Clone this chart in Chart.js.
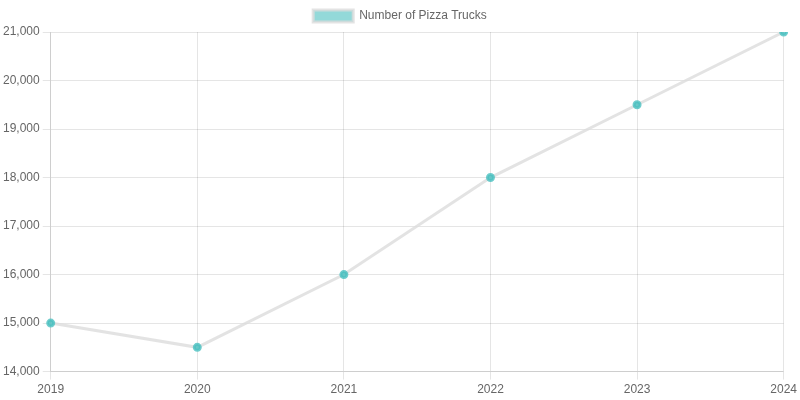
<!DOCTYPE html>
<html lang="en">
  <head>
    <meta charset="UTF-8" />
    <title>Pizza Trucks</title>
    <script src="https://cdn.jsdelivr.net/npm/chart.js@4"></script>
    <style>
      body { margin: 0; }
      .container { width: 800px; height: 400px; }
    </style>
  </head>
  <body>
    <div class="container">
      <canvas id="myChart"></canvas>
    </div>
    <script>
      const years = ["2019", "2020", "2021", "2022", "2023", "2024"];
      const trucks = [15000, 14500, 16000, 18000, 19500, 21000];

      Chart.defaults.font.family = "Liberation Sans, Arial, sans-serif";
      Chart.defaults.color = "#666";

      new Chart(document.getElementById("myChart"), {
        type: "line",
        data: {
          labels: years,
          datasets: [
            {
              label: "Number of Pizza Trucks",
              data: trucks,
              backgroundColor: "rgba(75, 192, 192, 0.6)",
              borderColor: "rgba(220, 220, 220, 0.8)",
              borderWidth: 3,
              pointBackgroundColor: "rgba(75, 192, 192, 0.8)",
              pointBorderColor: "rgba(75, 192, 192, 0.8)",
              pointRadius: 3,
              tension: 0,
            },
          ],
        },
        options: {
          responsive: true,
          maintainAspectRatio: false,
          animation: false,
          scales: {
            x: { offset: false },
            y: {
              min: 14000,
              max: 21000,
              ticks: { stepSize: 1000 },
            },
          },
        },
      });
    </script>
  </body>
</html>
